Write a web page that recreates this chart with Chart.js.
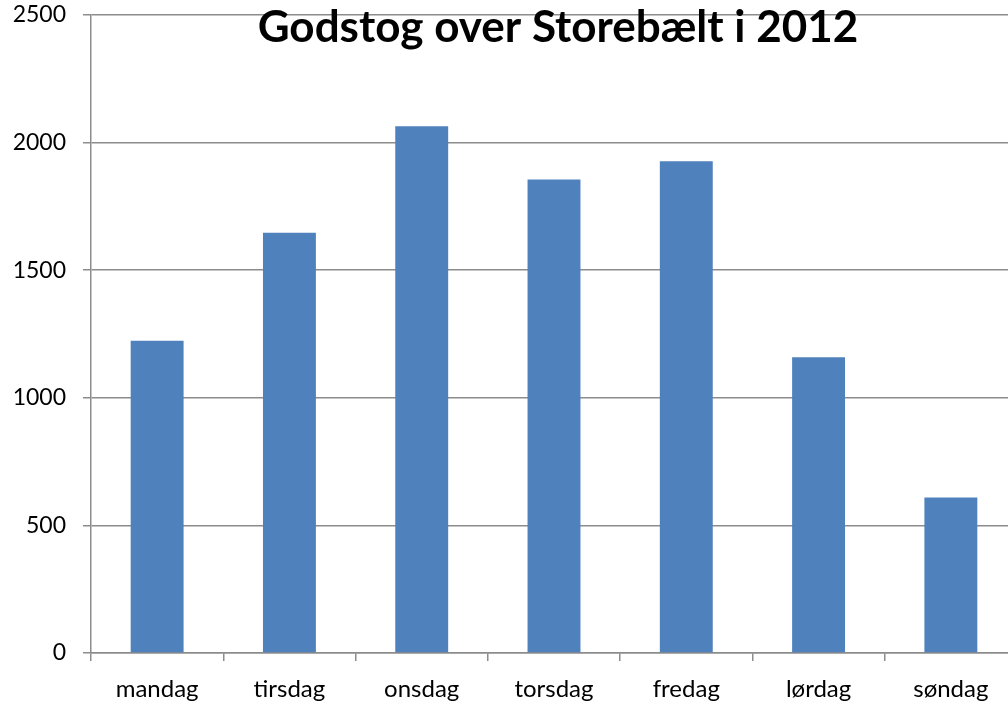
<!DOCTYPE html>
<html lang="da">
<head>
<meta charset="utf-8">
<title>Godstog over Storebælt i 2012</title>
<script src="https://cdn.jsdelivr.net/npm/chart.js@4.4.1/dist/chart.umd.min.js"></script>
<style>
    html, body { margin: 0; padding: 0; background: #fff; overflow: hidden; }
    #wrap { width: 1017px; height: 702px; }
</style>
</head>
<body>
<div id="wrap"><canvas id="godstogChart" width="1017" height="702"></canvas></div>
<script>
const dage = ['mandag', 'tirsdag', 'onsdag', 'torsdag', 'fredag', 'lørdag', 'søndag'];
const godstog = [1224, 1647, 2064, 1855, 1927, 1159, 609];
const yMax = 2500;
const yStep = 500;

const titel = 'Godstog over Storebælt i 2012';
const gridColor = '#8c8c8c';
const fontFamily = 'Lato, "Open Sans", sans-serif';

// title sits inside the plot area, on top of the bars and grid
const titlePlugin = {
    id: 'insideTitle',
    afterDraw(chart) {
        const ctx = chart.ctx;
        const area = chart.chartArea;
        ctx.save();
        ctx.font = `bold 44px ${fontFamily}`;
        ctx.fillStyle = '#000';
        ctx.textAlign = 'center';
        ctx.textBaseline = 'alphabetic';
        ctx.fillText(titel, (area.left + area.right) / 2 + 4, area.top + 27);
        ctx.restore();
    }
};

const ctx = document.getElementById('godstogChart').getContext('2d');
new Chart(ctx, {
    type: 'bar',
    data: {
        labels: dage,
        datasets: [{
            data: godstog,
            backgroundColor: '#4f81bd',
            categoryPercentage: 1,
            barPercentage: 0.4
        }]
    },
    options: {
        responsive: false,
        animation: false,
        layout: { padding: { top: 15, left: 0, right: 0, bottom: 0 } },
        scales: {
            x: {
                grid: {
                    drawOnChartArea: false,
                    drawTicks: true,
                    tickLength: 8,
                    color: gridColor,
                    lineWidth: 1.5,
                    offset: true
                },
                border: { color: gridColor, width: 1.5 },
                ticks: {
                    color: '#000',
                    padding: 14,
                    font: { family: fontFamily, size: 24 }
                },
                afterFit(scale) { scale.height = 49; }
            },
            y: {
                min: 0,
                max: yMax,
                grid: {
                    color: gridColor,
                    lineWidth: 1.5,
                    tickLength: 8
                },
                border: { color: gridColor, width: 1.5 },
                ticks: {
                    stepSize: yStep,
                    color: '#000',
                    padding: 17,
                    font: { family: fontFamily, size: 23 },
                    callback: v => String(v)
                },
                afterFit(scale) {
                    scale.width = 91;
                    // top label may overhang into the layout padding
                    scale.paddingTop = 0;
                    scale.paddingBottom = 0;
                }
            }
        },
        plugins: {
            legend: { display: false },
            tooltip: { enabled: false }
        }
    },
    plugins: [titlePlugin]
});
</script>
</body>
</html>
